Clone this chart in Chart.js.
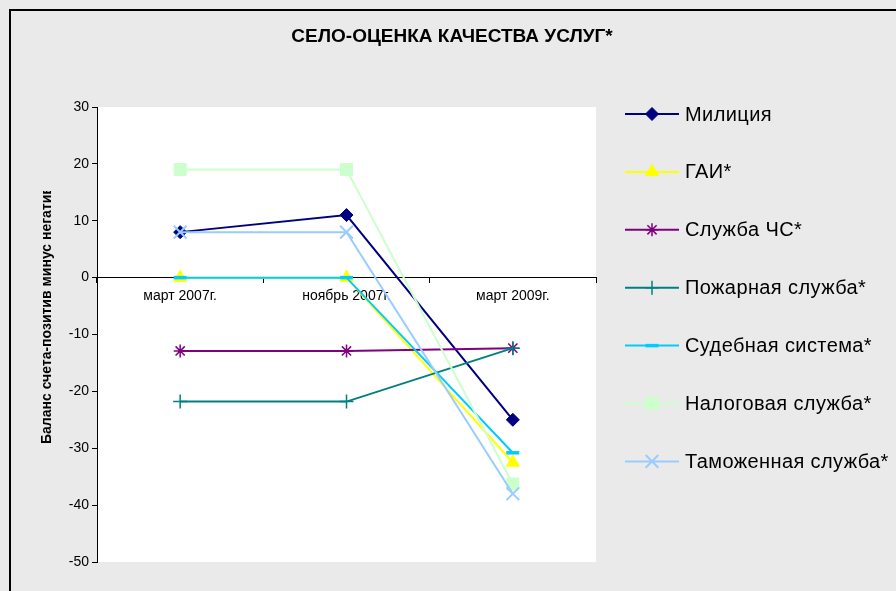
<!DOCTYPE html>
<html>
<head>
<meta charset="utf-8">
<script src="https://cdn.jsdelivr.net/npm/chart.js@4"></script>
<style>
  body { margin: 0; background: #eaeaea; }
</style>
</head>
<body>
<canvas id="chart" width="896" height="591"></canvas>
<script>
const periods = ['март 2007г.', 'ноябрь 2007г.', 'март 2009г.'];
const yTicks = [30, 20, 10, 0, -10, -20, -30, -40, -50];

const militsiya = [8, 11, -25];
const gai = [0, 0, -32.5];
const chs = [-12.9, -12.9, -12.4];
const pozhar = [-21.8, -21.8, -12.4];
const sud = [0, 0, -30.8];
const nalog = [19, 19, -36.3];
const tamozh = [8, 8, -38];

const seriesNames = ['Милиция', 'ГАИ*', 'Служба ЧС*', 'Пожарная служба*', 'Судебная система*', 'Налоговая служба*', 'Таможенная служба*'];
const seriesValues = [militsiya, gai, chs, pozhar, sud, nalog, tamozh];
const seriesColors = ['#000080', '#ffff00', '#800080', '#008080', '#00ccff', '#ccffcc', '#99ccff'];
const markers = [
    { style: 'rectRot', r: 6.5, bw: 1 },
    { style: 'triangle', r: 7.5, bw: 1 },
    { style: 'star', r: 6.5, bw: 1.5 },
    { style: 'cross', r: 7, bw: 1.5 },
    { style: 'line', r: 6.5, bw: 3.5 },
    { style: 'rect', r: 8.5, bw: 1 },
    { style: 'crossRot', r: 9, bw: 2 }
];

const datasets = seriesValues.map((vals, i) => ({
    label: seriesNames[i],
    data: vals,
    borderColor: seriesColors[i],
    backgroundColor: seriesColors[i],
    borderWidth: 2,
    pointStyle: markers[i].style,
    pointRadius: markers[i].r,
    pointHoverRadius: markers[i].r,
    pointBorderWidth: markers[i].bw,
    pointBackgroundColor: seriesColors[i],
    pointBorderColor: seriesColors[i],
    tension: 0,
    clip: false,
    order: -i
}));

const FONT = '"Liberation Sans", Arial, sans-serif';

// фон, рамка, заголовок, подпись оси и легенда
const decor = {
    id: 'decor',
    beforeDraw(chart) {
        const ctx = chart.ctx;
        const a = chart.chartArea;
        ctx.save();
        ctx.fillStyle = '#eaeaea';
        ctx.fillRect(0, 0, chart.width, chart.height);
        ctx.strokeStyle = '#000';
        ctx.lineWidth = 2;
        ctx.strokeRect(10, 10, chart.width + 20, chart.height + 20);
        ctx.fillStyle = '#fff';
        ctx.fillRect(a.left, a.top, a.right - a.left, a.bottom - a.top);
        ctx.restore();
    },
    afterDraw(chart) {
        const ctx = chart.ctx;
        ctx.save();
        ctx.fillStyle = '#000';
        ctx.font = 'bold 19px ' + FONT;
        ctx.textAlign = 'center';
        ctx.textBaseline = 'middle';
        ctx.fillText('СЕЛО-ОЦЕНКА КАЧЕСТВА УСЛУГ*', 452, 37);

        // подпись оси Y, обрезанная сверху как в оригинале
        ctx.save();
        ctx.beginPath();
        ctx.rect(0, 191, 97, 400);
        ctx.clip();
        ctx.translate(47.5, 444);
        ctx.rotate(-Math.PI / 2);
        ctx.font = 'bold 14px ' + FONT;
        ctx.textAlign = 'left';
        ctx.textBaseline = 'middle';
        ctx.fillText('Баланс счета-позитив минус негатив', 0, 0);
        ctx.restore();

        // легенда
        ctx.font = '20px ' + FONT;
        ctx.letterSpacing = '0.4px';
        ctx.textAlign = 'left';
        ctx.textBaseline = 'middle';
        chart.data.datasets.forEach((ds, i) => {
            const y = 114 + i * 57.9;
            ctx.strokeStyle = ds.borderColor;
            ctx.lineWidth = 2;
            ctx.beginPath();
            ctx.moveTo(625, y);
            ctx.lineTo(679, y);
            ctx.stroke();
            ctx.fillStyle = ds.borderColor;
            ctx.lineWidth = ds.pointBorderWidth;
            Chart.helpers.drawPoint(ctx, {
                pointStyle: ds.pointStyle,
                radius: ds.pointRadius,
                borderWidth: ds.pointBorderWidth,
                rotation: 0
            }, 652, y);
            ctx.fillStyle = '#000';
            ctx.fillText(ds.label, 685, y + 1);
        });
        ctx.restore();
    }
};

const ctx = document.getElementById('chart').getContext('2d');
const myChart = new Chart(ctx, {
    type: 'line',
    data: {
        labels: periods,
        datasets: datasets
    },
    options: {
        responsive: false,
        animation: false,
        events: [],
        layout: {
            padding: { left: 0, top: 107, right: 300, bottom: 29 }
        },
        plugins: {
            legend: { display: false },
            title: { display: false },
            tooltip: { enabled: false }
        },
        scales: {
            x: {
                position: { y: 0 },
                offset: true,
                grid: {
                    offset: true,
                    drawOnChartArea: false,
                    color: '#000',
                    tickLength: 5,
                    tickColor: '#000'
                },
                border: { color: '#000', width: 1 },
                ticks: {
                    color: '#000',
                    padding: 5,
                    maxRotation: 0,
                    font: { family: FONT, size: 14 }
                }
            },
            y: {
                min: -50,
                max: 30,
                afterFit: (scale) => { scale.width = 97; },
                afterBuildTicks: (scale) => {
                    scale.ticks = yTicks.map(v => ({ value: v }));
                },
                grid: {
                    drawOnChartArea: false,
                    color: '#000',
                    tickLength: 5,
                    tickColor: '#000'
                },
                border: { color: '#000', width: 1 },
                ticks: {
                    color: '#000',
                    padding: 3,
                    font: { family: FONT, size: 14 }
                }
            }
        }
    },
    plugins: [decor]
});
</script>
</body>
</html>
